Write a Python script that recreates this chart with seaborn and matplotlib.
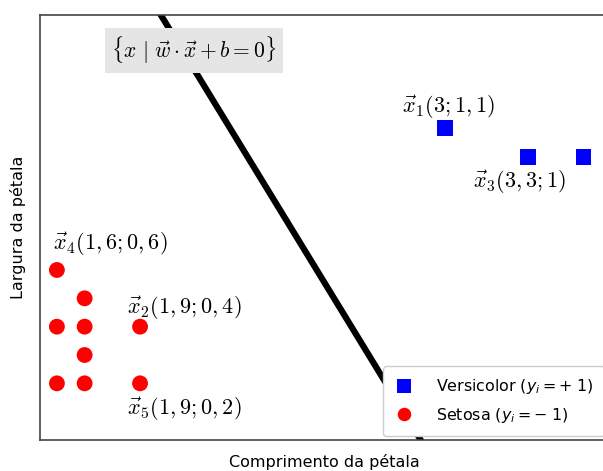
import numpy as np
import pandas as pd
import matplotlib
matplotlib.use("Agg")
import matplotlib.pyplot as plt
import seaborn as sns

# dados (comprimento / largura da pétala)
setosa_x = [1.6, 1.7, 1.6, 1.7, 1.9, 1.7, 1.6, 1.7, 1.9]
setosa_y = [0.6, 0.5, 0.4, 0.4, 0.4, 0.3, 0.2, 0.2, 0.2]
versicolor_x = [3.0, 3.3, 3.5, 3.6]
versicolor_y = [1.1, 1.0, 1.0, 1.3]

# hiperplano w.x + b = 0
w = [1.6, 1.0]
b = -4.66

lbl_versi = r"Versicolor ($y_i = +\;1$)"
lbl_setosa = r"Setosa ($y_i = -\;1$)"

df = pd.DataFrame({
    "comprimento": versicolor_x + setosa_x,
    "largura": versicolor_y + setosa_y,
    "classe": [lbl_versi] * len(versicolor_x) + [lbl_setosa] * len(setosa_x),
})

# pontos anotados: (x, y, texto, deslocamento em pontos)
anotacoes = [
    (3.0, 1.1, r"$\vec{x}_1(3;1,1)$", (-31, 15)),
    (1.9, 0.4, r"$\vec{x}_2(1,9;0,4)$", (-9.5, 13)),
    (3.3, 1.0, r"$\vec{x}_3(3,3;1)$", (-40, -18.5)),
    (1.6, 0.6, r"$\vec{x}_4(1,6;0,6)$", (-3, 18.5)),
    (1.9, 0.2, r"$\vec{x}_5(1,9;0,2)$", (-9.5, -18.5)),
]

fig = plt.figure(figsize=(6.03, 4.71), dpi=100)
ax = fig.add_axes([40 / 603, 31 / 471, 569 / 603, 425 / 471])

# linha do hiperplano
line_y = np.array([0.0, 1.5])
line_x = -(w[1] * line_y + b) / w[0]
sns.lineplot(x=line_x, y=line_y, color="black", linewidth=4.5, ax=ax, zorder=1)

sns.scatterplot(data=df, x="comprimento", y="largura", hue="classe", style="classe",
                hue_order=[lbl_versi, lbl_setosa],
                palette={lbl_versi: "blue", lbl_setosa: "red"},
                markers={lbl_versi: "s", lbl_setosa: "o"},
                s=130, linewidth=0, ax=ax, zorder=3)

for px, py, txt, off in anotacoes:
    ax.annotate(txt, xy=(px, py), xytext=off, textcoords="offset points",
                ha="left", va="center", fontsize=16, math_fontfamily="cm")

ax.text(0.2707, 0.9165, r"$\{x\ |\ \vec{w}\cdot\vec{x}+b=0\}$", transform=ax.transAxes,
        ha="center", va="center", fontsize=15.5, math_fontfamily="cm",
        bbox=dict(boxstyle="square,pad=0.3", facecolor="#e5e5e5", edgecolor="none"))

ax.set_xlim(1.539, 3.592)
ax.set_ylim(0, 1.5)
ax.set_xticks([])
ax.set_yticks([])
ax.set_xlabel("Comprimento da pétala", fontsize=11.5, labelpad=10)
ax.set_ylabel("Largura da pétala", fontsize=11.5, labelpad=10)
for sp in ax.spines.values():
    sp.set_color("#444444")
    sp.set_linewidth(1.2)

ax.legend(loc="lower right", fontsize=11.4, markerscale=0.85,
          bbox_to_anchor=(0.998, 0.0), borderaxespad=0.25,
          borderpad=0.7, handlelength=1.35, handletextpad=1.3,
          labelspacing=0.6, framealpha=1.0)

fig.savefig("out.png", dpi=100)
